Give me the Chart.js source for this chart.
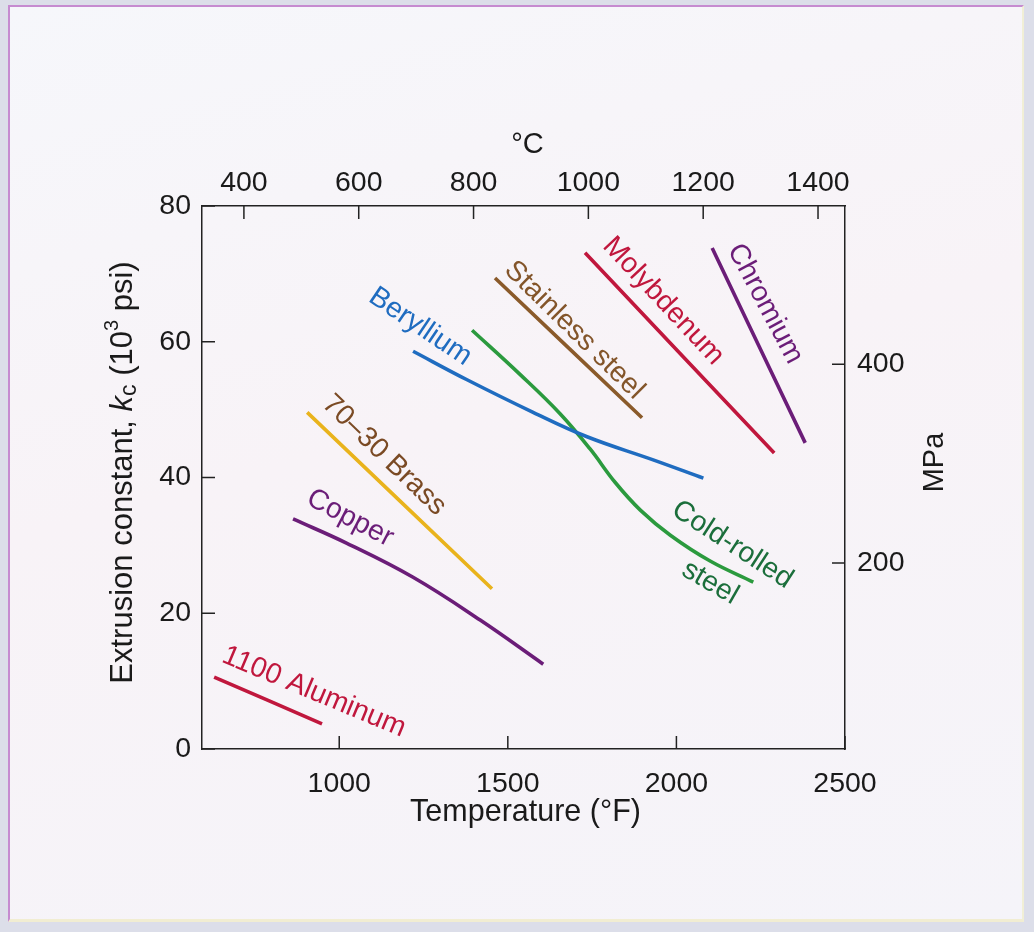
<!DOCTYPE html>
<html>
<head>
<meta charset="utf-8">
<script src="https://cdn.jsdelivr.net/npm/chart.js@4.4.1/dist/chart.umd.min.js"></script>
<style>
  html, body { margin: 0; padding: 0; background: #dcdee9; }
  #frame {
    position: absolute; left: 8px; top: 5px; width: 1012px; height: 912px;
    border-left: 2px solid #c68bd0; border-top: 2px solid #c68bd0;
    border-right: 2px solid #f1efd6; border-bottom: 3px solid #f1edd2;
    background: linear-gradient(165deg, #f6f7fb 0%, #f8f3f7 45%, #f5f4f9 100%);
  }
  #wrap { position: absolute; left: 0; top: 0; width: 1034px; height: 932px; }
</style>
</head>
<body>
<div id="frame"></div>
<div id="wrap"><canvas id="grafico"></canvas></div>
<script>
// eixos
const ticksF = [1000, 1500, 2000, 2500];
const ticksC = [400, 600, 800, 1000, 1200, 1400];
const ticksK = [0, 20, 40, 60, 80];
const ticksMPa = [200, 400];

// curvas: temperatura (°F) e constante de extrusão (10^3 psi)
const aluminioF = [629, 949];
const aluminioK = [10.6, 3.7];
const cobreF = [863, 1023, 1219, 1418, 1605];
const cobreK = [33.9, 30.3, 25.3, 19.0, 12.5];
const lataoF = [905, 1453];
const lataoK = [49.6, 23.6];
const berilioF = [1219, 1379, 1575, 1735, 1931, 2080];
const berilioK = [58.6, 54.4, 49.6, 46.0, 42.6, 39.9];
const acoFrioF = [1394, 1536, 1655, 1744, 1818, 1893, 1982, 2100, 2228];
const acoFrioK = [61.7, 55.2, 49.4, 44.2, 39.3, 35.2, 31.5, 27.7, 24.6];
const inoxF = [1462, 1898];
const inoxK = [69.4, 48.8];
const molibdenioF = [1729, 2290];
const molibdenioK = [73.1, 43.6];
const cromoF = [2106, 2382];
const cromoK = [73.8, 45.1];

// rótulos das curvas (posição em coordenadas dos dados)
const rotulos = [
  { texto: '1100 Aluminum', x: 925, y: 8.4, ang: 22.6, cor: '#c0173d' },
  { texto: 'Copper', x: 1032, y: 34.0, ang: 27.5, cor: '#6b1d78' },
  { texto: '70\u201330 Brass', x: 1133, y: 43.3, ang: 44, cor: '#7a4a24' },
  { texto: 'Beryllium', x: 1240, y: 62.2, ang: 34, cor: '#1f6cc0' },
  { texto: 'Stainless steel', x: 1697, y: 61.7, ang: 44.6, cor: '#83552a' },
  { texto: 'Molybdenum', x: 1961, y: 66.0, ang: 47, cor: '#c0173d' },
  { texto: 'Chromium', x: 2263, y: 65.6, ang: 62, cor: '#6b1d78' },
  { texto: 'Cold-rolled', x: 2166, y: 30.1, ang: 33, cor: '#1b6e3b' },
  { texto: 'steel', x: 2100, y: 24.5, ang: 30, cor: '#1b6e3b' }
];

const fonte = '"Liberation Sans", Arial, sans-serif';

function pontos(xs, ys) {
  return xs.map((x, i) => ({ x: x, y: ys[i] }));
}

function serie(xs, ys, cor) {
  return {
    data: pontos(xs, ys),
    borderColor: cor,
    borderWidth: 3.6,
    pointRadius: 0,
    showLine: true,
    fill: false,
    tension: 0.4,
    xAxisID: 'x',
    yAxisID: 'y'
  };
}

// marcas dos eixos para dentro + textos
const extras = {
  id: 'extras',
  afterDraw(chart) {
    const ctx = chart.ctx;
    const a = chart.chartArea;
    const s = chart.scales;
    const L = 13;
    ctx.save();
    ctx.strokeStyle = '#222';
    ctx.lineWidth = 1.5;
    ctx.beginPath();
    ticksF.forEach(v => { const p = s.x.getPixelForValue(v); ctx.moveTo(p, a.bottom); ctx.lineTo(p, a.bottom - L); });
    ticksC.forEach(v => { const p = s.x2.getPixelForValue(v); ctx.moveTo(p, a.top); ctx.lineTo(p, a.top + L); });
    ticksK.forEach(v => { const p = s.y.getPixelForValue(v); ctx.moveTo(a.left, p); ctx.lineTo(a.left + L, p); });
    ticksMPa.forEach(v => { const p = s.y2.getPixelForValue(v); ctx.moveTo(a.right, p); ctx.lineTo(a.right - L, p); });
    ctx.stroke();

    // rótulos das curvas
    ctx.font = '28.5px ' + fonte;
    ctx.textAlign = 'center';
    ctx.textBaseline = 'middle';
    rotulos.forEach(r => {
      ctx.save();
      ctx.translate(s.x.getPixelForValue(r.x), s.y.getPixelForValue(r.y));
      ctx.rotate(r.ang * Math.PI / 180);
      ctx.fillStyle = r.cor;
      ctx.fillText(r.texto, 0, 0);
      ctx.restore();
    });

    // títulos dos eixos
    ctx.fillStyle = '#1a1a1a';
    ctx.font = '30.5px ' + fonte;
    ctx.fillText('Temperature (\u00b0F)', (a.left + a.right) / 2 + 2, a.bottom + 64);
    ctx.font = '29px ' + fonte;
    ctx.fillText('\u00b0C', (a.left + a.right) / 2 + 4, a.top - 61);
    ctx.save();
    ctx.translate(a.right + 90, (a.top + a.bottom) / 2 - 15);
    ctx.rotate(-Math.PI / 2);
    ctx.fillText('MPa', 0, 0);
    ctx.restore();

    // título do eixo y com itálico, subscrito e sobrescrito
    const partes = [
      { t: 'Extrusion constant, ', f: '31px ' + fonte, dy: 0 },
      { t: 'k', f: 'italic 31px ' + fonte, dy: 0 },
      { t: 'c', f: '23px ' + fonte, dy: 7 },
      { t: ' (10', f: '31px ' + fonte, dy: 0 },
      { t: '3', f: '20px ' + fonte, dy: -11 },
      { t: ' psi)', f: '31px ' + fonte, dy: 0 }
    ];
    let total = 0;
    partes.forEach(p => { ctx.font = p.f; p.w = ctx.measureText(p.t).width; total += p.w; });
    ctx.save();
    ctx.translate(a.left - 79, (a.top + a.bottom) / 2 - 5);
    ctx.rotate(-Math.PI / 2);
    ctx.textAlign = 'left';
    let px = -total / 2;
    partes.forEach(p => { ctx.font = p.f; ctx.fillText(p.t, px, p.dy); px += p.w; });
    ctx.restore();
    ctx.restore();
  }
};

const eixoFonte = { family: fonte, size: 28.5 };
const borda = { display: true, color: '#222', width: 1.5 };
const semVirgula = v => String(v);

new Chart(document.getElementById('grafico').getContext('2d'), {
  type: 'scatter',
  data: {
    datasets: [
      serie(aluminioF, aluminioK, '#c0173d'),
      serie(cobreF, cobreK, '#6b1d78'),
      serie(lataoF, lataoK, '#e9b31c'),
      serie(berilioF, berilioK, '#1f6cc0'),
      serie(acoFrioF, acoFrioK, '#2b9a3e'),
      serie(inoxF, inoxK, '#8a5a2a'),
      serie(molibdenioF, molibdenioK, '#c0173d'),
      serie(cromoF, cromoK, '#6b1d78')
    ]
  },
  options: {
    responsive: true,
    maintainAspectRatio: false,
    animation: false,
    layout: { padding: 0 },
    plugins: { legend: { display: false }, tooltip: { enabled: false } },
    scales: {
      x: {
        type: 'linear', position: 'bottom', min: 593, max: 2500,
        afterBuildTicks: sc => { sc.ticks = ticksF.map(v => ({ value: v })); },
        afterFit: sc => { sc.height = 183; },
        grid: { display: false, drawTicks: false },
        border: borda,
        ticks: { font: eixoFonte, color: '#1a1a1a', padding: 18, maxRotation: 0, callback: semVirgula }
      },
      x2: {
        type: 'linear', position: 'top', min: 327, max: 1447,
        afterBuildTicks: sc => { sc.ticks = ticksC.map(v => ({ value: v })); },
        afterFit: sc => { sc.height = 206; },
        grid: { display: false, drawTicks: false },
        border: borda,
        ticks: { font: eixoFonte, color: '#1a1a1a', padding: 6, maxRotation: 0, callback: semVirgula }
      },
      y: {
        type: 'linear', position: 'left', min: 0, max: 80,
        afterBuildTicks: sc => { sc.ticks = ticksK.map(v => ({ value: v })); },
        afterFit: sc => { sc.width = 202; },
        grid: { display: false, drawTicks: false },
        border: borda,
        ticks: { font: eixoFonte, color: '#1a1a1a', padding: 11, callback: semVirgula }
      },
      y2: {
        type: 'linear', position: 'right', min: 13, max: 559,
        afterBuildTicks: sc => { sc.ticks = ticksMPa.map(v => ({ value: v })); },
        afterFit: sc => { sc.width = 189; },
        grid: { display: false, drawTicks: false },
        border: borda,
        ticks: { font: eixoFonte, color: '#1a1a1a', padding: 12, callback: semVirgula }
      }
    }
  },
  plugins: [extras]
});
</script>
</body>
</html>
